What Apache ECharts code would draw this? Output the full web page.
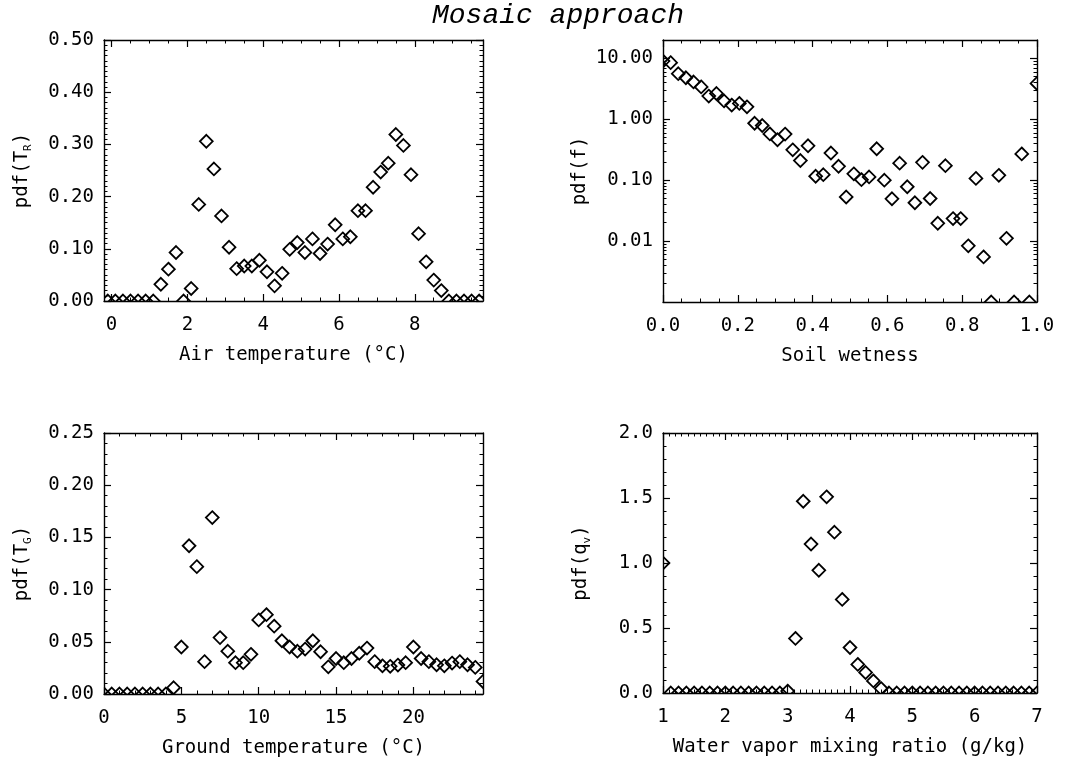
<!DOCTYPE html>
<html><head><meta charset="utf-8">
<script src="https://cdn.jsdelivr.net/npm/echarts@6/dist/echarts.min.js"></script>
<style>html,body{margin:0;padding:0;background:#fff}#c{width:1066px;height:767px}</style>
</head><body><div id="c"></div><script>
// ---------- data ----------
const airTemp = [-0.1,0.1,0.3,0.5,0.7,0.9,1.1,1.3,1.5,1.7,1.9,2.1,2.3,2.5,2.7,2.9,3.1,3.3,3.5,3.7,3.9,4.1,4.3,4.5,4.7,4.9,5.1,5.3,5.5,5.7,5.9,6.1,6.3,6.5,6.7,6.9,7.1,7.3,7.5,7.7,7.9,8.1,8.3,8.5,8.7,8.9,9.1,9.3,9.5,9.7];
const airPdf = [0,0,0,0,0,0,0,0.032,0.061,0.093,0,0.024,0.185,0.306,0.253,0.163,0.103,0.062,0.067,0.067,0.078,0.056,0.029,0.053,0.099,0.112,0.093,0.119,0.091,0.109,0.146,0.119,0.123,0.173,0.173,0.218,0.247,0.264,0.319,0.298,0.242,0.129,0.075,0.04,0.02,0,0,0,0,0];

const soilWet = [0,0.0204,0.0408,0.0612,0.0816,0.102,0.1224,0.1429,0.1633,0.1837,0.2041,0.2245,0.2449,0.2653,0.2857,0.3061,0.3265,0.3469,0.3673,0.3878,0.4082,0.4286,0.449,0.4694,0.4898,0.5102,0.5306,0.551,0.5714,0.5918,0.6122,0.6327,0.6531,0.6735,0.6939,0.7143,0.7347,0.7551,0.7755,0.7959,0.8163,0.8367,0.8571,0.8776,0.898,0.9184,0.9388,0.9592,0.9796,1.0];
const soilPdf = [9.0,8.5,5.6,4.8,4.1,3.4,2.4,2.65,2.0,1.71,1.82,1.6,0.86,0.79,0.575,0.46,0.57,0.315,0.21,0.367,0.116,0.123,0.279,0.169,0.053,0.127,0.102,0.113,0.328,0.10,0.0495,0.19,0.078,0.0426,0.196,0.050,0.0196,0.173,0.0234,0.0234,0.00835,0.107,0.0055,0,0.12,0.0111,0,0.27,0,3.87];

const groundTemp = [0,0.5,1,1.5,2,2.5,3,3.5,4,4.5,5,5.5,6,6.5,7,7.5,8,8.5,9,9.5,10,10.5,11,11.5,12,12.5,13,13.5,14,14.5,15,15.5,16,16.5,17,17.5,18,18.5,19,19.5,20,20.5,21,21.5,22,22.5,23,23.5,24,24.5];
const groundPdf = [0,0,0,0,0,0,0,0,0,0.006,0.045,0.142,0.122,0.031,0.169,0.054,0.041,0.030,0.030,0.038,0.071,0.076,0.065,0.051,0.045,0.041,0.043,0.051,0.0405,0.026,0.034,0.030,0.034,0.039,0.044,0.031,0.027,0.0265,0.0277,0.030,0.045,0.034,0.031,0.028,0.027,0.0296,0.031,0.028,0.0255,0.012];

const vaporRatio = [1,1.125,1.25,1.375,1.5,1.625,1.75,1.875,2,2.125,2.25,2.375,2.5,2.625,2.75,2.875,3,3.125,3.25,3.375,3.5,3.625,3.75,3.875,4,4.125,4.25,4.375,4.5,4.625,4.75,4.875,5,5.125,5.25,5.375,5.5,5.625,5.75,5.875,6,6.125,6.25,6.375,6.5,6.625,6.75,6.875,7];
const vaporPdf = [1.0,0,0,0,0,0,0,0,0,0,0,0,0,0,0,0,0.015,0.42,1.475,1.146,0.944,1.509,1.237,0.72,0.35,0.22,0.158,0.093,0.034,0,0,0,0,0,0,0,0,0,0,0,0,0,0,0,0,0,0,0,0];

// tick labels
const airTempTicks = [0,2,4,6,8];
const airPdfTicks = [0,0.1,0.2,0.3,0.4,0.5];
const soilTicks = [0,0.2,0.4,0.6,0.8,1.0];
const soilPdfTicks = [0.01,0.1,1,10];
const groundTicks = [0,5,10,15,20];
const groundPdfTicks = [0,0.05,0.1,0.15,0.2,0.25];
const vaporTicks = [1,2,3,4,5,6,7];
const vaporPdfTicks = [0,0.5,1,1.5,2];

// ---------- helpers ----------
const FONT = '"DejaVu Sans Mono", monospace';
const FS = 19;
function seq(a,b,step){const o=[];const n=Math.round((b-a)/step);for(let i=0;i<=n;i++)o.push(+(a+i*step).toFixed(6));return o;}
function without(all,major){return all.filter(v=>!major.some(m=>Math.abs(m-v)<1e-9));}
const logMinor = [];
[-3,-2,-1,0,1].forEach(e=>{for(let m=2;m<=9;m++){const v=+(m*Math.pow(10,e)).toPrecision(3);logMinor.push(v);}});

const SOIL_MIN = 0.001, SOIL_MAX = 20;

const panels = [
  {grid:{left:104,top:40,width:379,height:261},
   x:{type:'value',min:-0.2,max:9.8,major:airTempTicks,minor:without(seq(0,9.5,0.5),airTempTicks),fmt:v=>String(Math.round(v)),name:'Air temperature (°C)'},
   y:{type:'value',min:0,max:0.5,major:airPdfTicks,minor:without(seq(0,0.5,0.01),airPdfTicks),fmt:v=>v.toFixed(2),name:'pdf(T{s|R})'},
   xs:airTemp, ys:airPdf},
  {grid:{left:663,top:40,width:374,height:262},
   x:{type:'value',min:0,max:1,major:soilTicks,minor:without(seq(0,1,0.05),soilTicks),fmt:v=>v.toFixed(1),name:'Soil wetness'},
   y:{type:'log',min:SOIL_MIN,max:SOIL_MAX,major:soilPdfTicks,minor:logMinor,fmt:v=>v.toFixed(2),name:'pdf(f)'},
   xs:soilWet, ys:soilPdf.map(v=>v>0?v:SOIL_MIN)},
  {grid:{left:104,top:433,width:379,height:261},
   x:{type:'value',min:0,max:24.5,major:groundTicks,minor:without(seq(0,24,1),groundTicks),fmt:v=>String(Math.round(v)),name:'Ground temperature (°C)'},
   y:{type:'value',min:0,max:0.25,major:groundPdfTicks,minor:without(seq(0,0.25,0.01),groundPdfTicks),fmt:v=>v.toFixed(2),name:'pdf(T{s|G})'},
   xs:groundTemp, ys:groundPdf},
  {grid:{left:663,top:433,width:374,height:260},
   x:{type:'value',min:1,max:7,major:vaporTicks,minor:without(seq(1,7,0.1),vaporTicks),fmt:v=>String(Math.round(v)),name:'Water vapor mixing ratio (g/kg)'},
   y:{type:'value',min:0,max:2,major:vaporPdfTicks,minor:without(seq(0,2,0.1),vaporPdfTicks),fmt:v=>v.toFixed(1),name:'pdf(q{s|v})'},
   xs:vaporRatio, ys:vaporPdf}
];

const grids=[], xAxes=[], yAxes=[], series=[];
const rich = {s:{fontFamily:FONT,fontSize:11,verticalAlign:'bottom',lineHeight:24,color:'#000'}};

function addAxes(list, dim, gi, o){
  const base = list.length;
  const positions = dim==='x' ? ['bottom','top'] : ['left','right'];
  positions.forEach((pos,i)=>{
    const main = {
      type:o.type, gridIndex:gi, position:pos, min:o.min, max:o.max,
      axisLine:{show:true,onZero:false,lineStyle:{color:'#000',width:1.4}},
      axisTick:{show:true,inside:true,length:7,customValues:o.major,lineStyle:{color:'#000',width:1.2}},
      splitLine:{show:false}, minorTick:{show:false},
      axisLabel: i===0 ? {show:true,customValues:o.major,formatter:o.fmt,margin:dim==='x'?15:10,
        fontFamily:FONT,fontSize:FS,color:'#000'} : {show:false}
    };
    if(i===0){
      main.name=o.name; main.nameLocation='middle';
      main.nameGap = dim==='x'?42:70;
      main.nameTextStyle={fontFamily:FONT,fontSize:FS,color:'#000',lineHeight:24,rich:rich};
    }
    list.push(main);
    list.push({
      type:o.type, gridIndex:gi, position:pos, min:o.min, max:o.max,
      axisLine:{show:false,onZero:false},
      axisTick:{show:true,inside:true,length:3.5,customValues:o.minor,lineStyle:{color:'#000',width:1}},
      axisLabel:{show:false}, splitLine:{show:false}, minorTick:{show:false}
    });
  });
  return base;
}

function diamond(params, api){
  const p = api.coord([api.value(0), api.value(1)]);
  const r = 6.4;
  return {type:'polygon',
    shape:{points:[[p[0],p[1]-r],[p[0]+r,p[1]],[p[0],p[1]+r],[p[0]-r,p[1]]]},
    style:{fill:null,stroke:'#000',lineWidth:1.8}};
}

panels.forEach((pn,gi)=>{
  grids.push(Object.assign({containLabel:false},pn.grid));
  const xi = addAxes(xAxes,'x',gi,pn.x);
  const yi = addAxes(yAxes,'y',gi,pn.y);
  series.push({type:'custom',xAxisIndex:xi,yAxisIndex:yi,clip:true,silent:true,
    renderItem:diamond, encode:{x:0,y:1},
    data:pn.xs.map((x,i)=>[x,pn.ys[i]])});
});

const chart = echarts.init(document.getElementById('c'),null,{renderer:'canvas'});
chart.setOption({
  animation:false,
  backgroundColor:'#fff',
  grid:grids, xAxis:xAxes, yAxis:yAxes, series:series,
  graphic:[{type:'text',x:558,y:16,style:{text:'Mosaic approach',fill:'#000',
    font:'italic 28px "Liberation Mono", monospace',align:'center',verticalAlign:'middle',
    textAlign:'center',textVerticalAlign:'middle'}}]
});
</script></body></html>
